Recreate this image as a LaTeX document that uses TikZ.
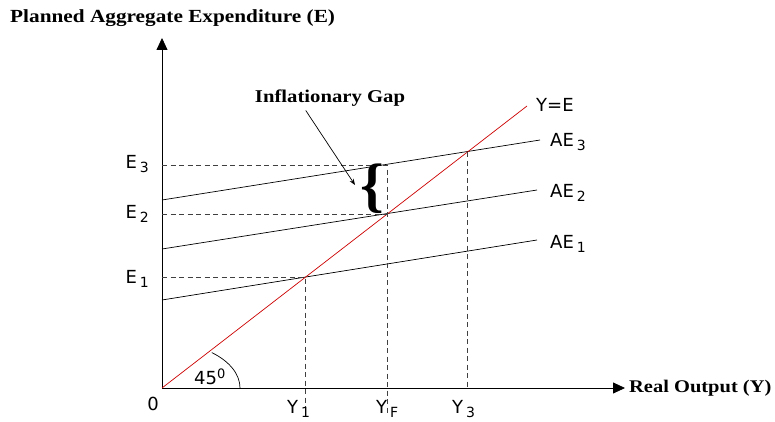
\documentclass[tikz,border=0pt]{standalone}
\usepackage{fontspec}
\setmainfont{Liberation Serif}
\setsansfont{DejaVu Sans}
\newfontfamily\wideserif[FakeStretch=1.15]{Liberation Serif}
\newcommand\lsub[1]{\,\raisebox{-4pt}{\fontsize{14}{14}\selectfont#1}}
\usetikzlibrary{positioning,arrows.meta}

\begin{document}
\begin{tikzpicture}[x=1pt,y=1pt,>=Stealth]
\tikzset{ax/.style={-{Triangle[length=12pt,width=11pt]},line width=.8pt},
         ae/.style={line width=.7pt},
         gd/.style={dash pattern=on 5pt off 3.5pt,line width=.6pt,draw=black!75},
         lbl/.style={font=\sffamily\fontsize{18}{18}\selectfont,inner sep=0pt},
         ttl/.style={font=\wideserif\bfseries\fontsize{18.5}{18.5}\selectfont,inner sep=0pt}}
\useasboundingbox (0,0) rectangle (775,421);
% axes
\coordinate (O) at (162,33);
\coordinate (ytop) at (162,383);
\coordinate (xend) at (625,33);
\draw[ax] (O) -- (ytop);
\draw[ax] (O) -- (xend);
\node[ttl,anchor=west] (ttlE) at (10,403) {Planned Aggregate Expenditure (E)};
\node[ttl,font=\wideserif\bfseries\fontsize{17.8}{17.8}\selectfont,anchor=west,right=4pt of xend] (ttlY) {Real Output (Y)};
\node[lbl,anchor=north east] (zero) at (159,24) {0};
% expenditure lines
\coordinate (ae1a) at (162,121); \coordinate (ae1b) at (537,181);
\coordinate (ae2a) at (162,172); \coordinate (ae2b) at (537,231);
\coordinate (ae3a) at (162,221); \coordinate (ae3b) at (540,281);
\coordinate (ye) at (527,315);
\draw[ae] (ae1a) -- (ae1b);
\draw[ae] (ae2a) -- (ae2b);
\draw[ae] (ae3a) -- (ae3b);
\draw[red!80!black,line width=.7pt] (O) -- (ye);
\node[lbl,anchor=west] (lye) at (536,316) {Y=E};
\node[lbl,anchor=west] (lae3) at (550,279) {AE\lsub{3}};
\node[lbl,anchor=west] (lae2) at (550,228) {AE\lsub{2}};
\node[lbl,anchor=west] (lae1) at (550,177) {AE\lsub{1}};
% guide lines
\coordinate (e1) at (162,144); \coordinate (p1) at (305,144); \coordinate (y1) at (305,6);
\coordinate (e2) at (162,207); \coordinate (pf) at (387,207);
\coordinate (e3) at (162,256); \coordinate (pg) at (387,256); \coordinate (yf) at (387,6);
\coordinate (p3) at (467,269); \coordinate (y3) at (467,33);
\draw[gd] (e1) -- (p1) -- (y1);
\draw[gd] (e2) -- (pf);
\draw[gd] (e3) -- (pg) -- (yf);
\draw[gd] (p3) -- (y3);
\node[lbl,anchor=east] (le3) at (149,257) {E\lsub{3}};
\node[lbl,anchor=east] (le2) at (149,207) {E\lsub{2}};
\node[lbl,anchor=east] (le1) at (149,142) {E\lsub{1}};
\node[lbl,anchor=base west] (ly1) at (287,8) {Y\lsub{1}};
\node[lbl,anchor=base west] (lyf) at (376,8) {Y\lsub{F}};
\node[lbl,anchor=base west] (ly3) at (452,8) {Y\lsub{3}};
% angle
\draw[line width=.7pt] (240,33) arc[start angle=0,end angle=50.4,x radius=78,y radius=46];
\node[lbl,anchor=base west] (ang) at (194,37) {45\raisebox{6pt}{\fontsize{13}{13}\selectfont 0}};
% gap
\node[font=\bfseries\fontsize{60}{60}\selectfont,inner sep=0pt] (brace) at (372,232) {\{};
\node[ttl,font=\wideserif\bfseries\fontsize{18}{18}\selectfont] (gap) at (330,323) {Inflationary Gap};
\coordinate (gaptip) at (355,236);
\draw[->,line width=.7pt] (gap.south west) ++(51,-4) coordinate (gapfoot) -- (gaptip);
\end{tikzpicture}
\end{document}
